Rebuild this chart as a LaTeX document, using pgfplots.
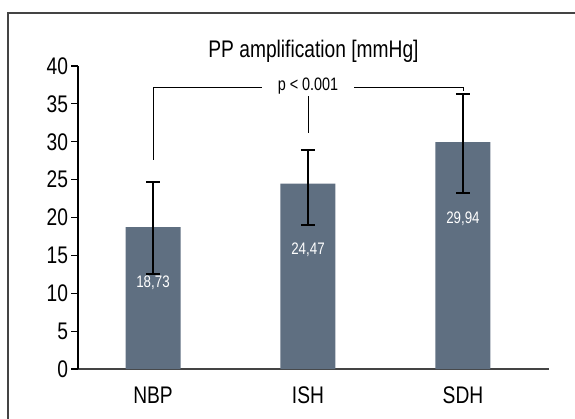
\documentclass[border=0pt]{standalone}
\usepackage{pgfplots}
\pgfplotsset{compat=1.18}
\usepackage{fontspec}
\setmainfont[FakeStretch=0.8]{Liberation Sans}
\definecolor{barblue}{HTML}{5F6F81}
\definecolor{axisgray}{HTML}{444444}

\begin{document}
\begin{tikzpicture}
% page = 575x418 px at 0.75pt per px, axis origin at px (78,369)
\path[use as bounding box] (-58.5pt,-36.75pt) rectangle (372.75pt,276.75pt);
\begin{axis}[
  at={(0pt,0pt)}, anchor=south west,
  scale only axis,
  width=353.25pt, height=227.25pt,
  xmin=-0.484, xmax=2.555,
  ymin=0, ymax=40,
  axis x line*=bottom, axis y line*=left,
  x axis line style={draw=axisgray, line width=0.8pt},
  y axis line style={draw=black, line width=0.8pt},
  ytick={0,5,...,40},
  xtick={0,1,2},
  xticklabels={NBP,ISH,SDH},
  major tick length=5pt,
  tick align=outside,
  x tick style={draw=none},
  y tick style={black, line width=0.8pt},
  tick label style={font=\fontsize{18}{21}\selectfont, black},
  /pgf/number format/assume math mode=true,
  xticklabel style={yshift=-5pt},
  yticklabel style={xshift=1pt},
  clip=false,
]
\addplot[ybar, bar width=41.25pt, fill=barblue, draw=none,
  error bars/.cd, y dir=both, y explicit,
  error bar style={line width=1.1pt, black},
  error mark options={rotate=90, line width=1.6pt, mark size=5.25pt, black}]
  coordinates {
  (0,18.73) += (0,5.97) -= (0,6.23)
  (1,24.47) += (0,4.43) -= (0,5.47)
  (2,29.94) += (0,6.36) -= (0,6.74)
};
% bracket
\draw[black, line width=0.7pt] (axis cs:0,27.6) -- (axis cs:0,37.15) -- (axis cs:0.705,37.15);
\draw[black, line width=0.7pt] (axis cs:1.3,37.15) -- (axis cs:2,37.15) -- (axis cs:2,36.7);
\draw[black, line width=0.7pt] (axis cs:1,36.0) -- (axis cs:1,31.2);
\node[font=\fontsize{13.5}{16}\selectfont] at (axis cs:1,37.3) {p < 0.001};
% value labels
\node[white, font=\fontsize{12.5}{15}\selectfont] at (axis cs:0,11.4) {18,73};
\node[white, font=\fontsize{12.5}{15}\selectfont] at (axis cs:1,15.7) {24,47};
\node[white, font=\fontsize{12.5}{15}\selectfont] at (axis cs:2,19.9) {29,94};
\node[anchor=base, font=\fontsize{18}{21}\selectfont] at (rel axis cs:0.5,1) [yshift=6.75pt] {PP amplification [mmHg]};
\end{axis}
% outer frame (cut at right and bottom)
\draw[axisgray, line width=1.1pt] (-52.5pt,-60pt) -- (-52.5pt,267pt) -- (400pt,267pt);
\end{tikzpicture}
\end{document}
